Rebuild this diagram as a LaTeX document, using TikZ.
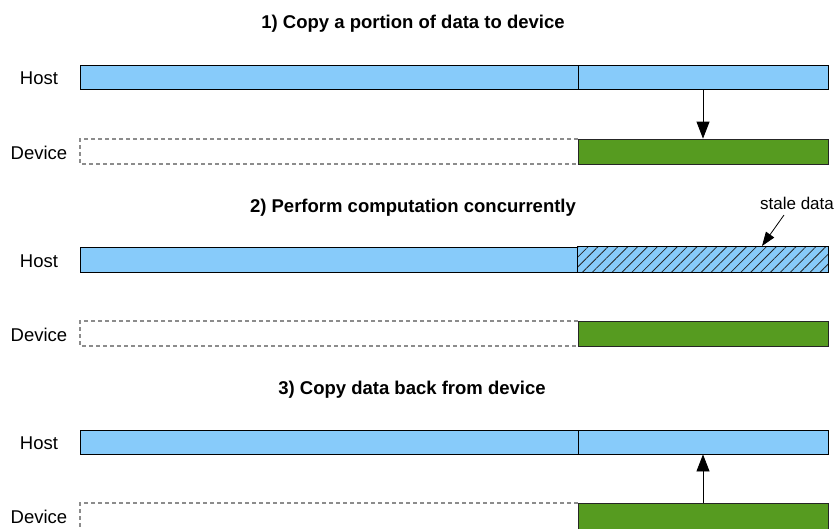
\documentclass[tikz,border=0pt]{standalone}
\usepackage{fontspec}
\setmainfont{Liberation Sans}
\usetikzlibrary{arrows.meta,patterns.meta}
\definecolor{hostblue}{RGB}{135,203,250}
\definecolor{devgreen}{RGB}{86,155,32}
\definecolor{dashgray}{RGB}{140,140,140}
\tikzset{
  hostbar/.style={draw=black, fill=hostblue, line width=0.8pt},
  devbar/.style={draw=black!85, fill=devgreen, line width=0.8pt},
  ghost/.style={draw=dashgray, dash pattern=on 4pt off 3pt, line width=1.2pt},
  hatch/.style={pattern={Lines[angle=45,distance=7pt,line width=0.8pt]}, pattern color=black!85},
  title/.style={font=\bfseries\fontsize{18.5}{22}\selectfont, anchor=center},
  rowlabel/.style={font=\fontsize{18.5}{22}\selectfont, anchor=center},
  bigarrow/.style={-{Triangle[length=17pt,width=13pt]}, line width=0.8pt},
}
\begin{document}
\begin{tikzpicture}[x=1pt,y=-1pt]
\useasboundingbox (0,0) rectangle (838,528);
% ---- Section 1
\node[title] (t1) at (413,24) {1) Copy a portion of data to device};
\node[rowlabel] (h1l) at (39,78) {Host};
\node[rowlabel] (d1l) at (39,153) {Device};
\path[hostbar] (80,65) rectangle (578,89);
\node[hostbar, minimum width=250pt, minimum height=24pt, inner sep=0pt] (h1r) at (703,77) {};
\path[ghost] (578,139) -- (80,139) -- (80,164) -- (578,164);
\node[devbar, minimum width=250pt, minimum height=25pt, inner sep=0pt] (d1r) at (703,151.5) {};
\draw[bigarrow] (h1r.south) -- (d1r.north);
% ---- Section 2
\node[title] (t2) at (413,208) {2) Perform computation concurrently};
\node[rowlabel] (h2l) at (39,261) {Host};
\node[rowlabel] (d2l) at (39,335) {Device};
\path[hostbar] (80,247) rectangle (578,272);
\node[fill=hostblue, minimum width=250pt, minimum height=25pt, inner sep=0pt] (h2r) at (703,259.5) {};
\path[hatch] (h2r.south west) rectangle (h2r.north east);
\draw[line width=0.8pt] (h2r.south west) rectangle (h2r.north east);
\path[ghost] (578,321) -- (80,321) -- (80,346) -- (578,346);
\node[devbar, minimum width=250pt, minimum height=25pt, inner sep=0pt] (d2r) at (703,333.5) {};
\node[font=\fontsize{17}{20}\selectfont] (sd) at (797,203) {stale data};
\coordinate (sdtip) at (762,246);
\draw[-{Triangle[length=14pt,width=10pt]}, line width=0.8pt] (784,215) -- (sdtip);
% ---- Section 3
\node[title] (t3) at (412,390) {3) Copy data back from device};
\node[rowlabel] (h3l) at (39,443) {Host};
\node[rowlabel] (d3l) at (39,517) {Device};
\path[hostbar] (80,430) rectangle (578,454);
\node[hostbar, minimum width=250pt, minimum height=24pt, inner sep=0pt] (h3r) at (703,442) {};
\path[ghost] (578,503) -- (80,503) -- (80,540);
\node[devbar, minimum width=250pt, minimum height=30pt, inner sep=0pt] (d3r) at (703,518) {};
\draw[bigarrow] (d3r.north) -- (h3r.south);
\end{tikzpicture}
\end{document}
